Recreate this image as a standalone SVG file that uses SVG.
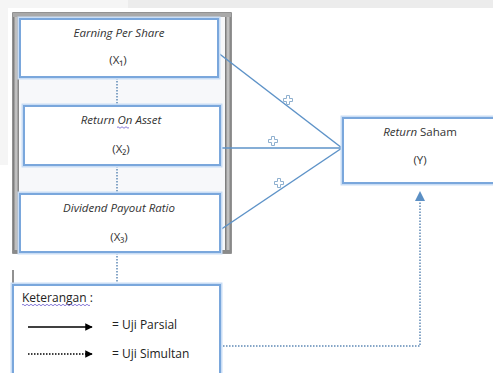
<svg xmlns="http://www.w3.org/2000/svg" width="493" height="373" viewBox="0 0 493 373">
<style>
.box{fill:#fff;stroke:#7aa7dc;stroke-width:2}
.glow{fill:none;stroke:#c9ddf5;stroke-width:5}
.t{font-family:"Open Sans","Liberation Sans",sans-serif;font-size:11.5px;fill:#333;text-anchor:middle}
.i{font-style:italic}
.l{font-family:"Open Sans","Liberation Sans",sans-serif;font-size:12px;fill:#222}
.con{stroke:#5e93c8;stroke-width:1.5;fill:none}
.dot{stroke:#5f89b5;stroke-width:1.5;fill:none;stroke-dasharray:1.5 1.5}
.plus{fill:#fff;stroke:#8fb0cf;stroke-width:1}
.wavy{fill:none;stroke:#6a5acd;stroke-width:0.8}
</style>
<defs>
<linearGradient id="side" x1="0" x2="1">
<stop offset="0" stop-color="#6e6e6e"/><stop offset="0.5" stop-color="#cfcfcf"/><stop offset="1" stop-color="#7a7a7a"/>
</linearGradient>
<marker id="ab" viewBox="0 0 10 10" refX="9" refY="5" markerWidth="7" markerHeight="7" orient="auto"><path d="M0,0L10,5L0,10z" fill="#5b8fc4"/></marker>
<marker id="ak" viewBox="0 0 10 10" refX="9" refY="5" markerWidth="5" markerHeight="5" orient="auto"><path d="M0,0L10,5L0,10z" fill="#000"/></marker>
</defs>
<rect x="0" y="0" width="493" height="373" fill="#fff"/>
<rect x="0" y="0" width="128" height="8" fill="#f5f5f5"/>
<rect x="128" y="0" width="365" height="8" fill="#ececec"/>
<rect x="0" y="0" width="8" height="165" fill="#f5f5f5"/>
<g id="frame">
<rect x="13" y="13" width="218" height="240" fill="#f7f8fa" stroke="#6f6f6f" stroke-width="1.5"/>
<rect x="13" y="13" width="6" height="240" fill="url(#side)"/>
<rect x="225" y="13" width="6" height="240" fill="url(#side)"/>
<rect x="13" y="13" width="218" height="4" fill="#a9a9a9"/>
<rect x="13" y="250" width="218" height="3" fill="#8a8a8a"/>
</g>
<g id="connectors">
<line class="dot" x1="117" y1="78" x2="117" y2="106"/>
<line class="dot" x1="117" y1="166" x2="117" y2="194"/>
<line class="dot" x1="117" y1="253" x2="117" y2="285"/>
<line class="con" x1="217" y1="52" x2="342" y2="148"/>
<line class="con" x1="220" y1="148" x2="342" y2="148"/>
<line class="con" x1="220" y1="230" x2="342" y2="148"/>
<path class="dot" d="M220,346H420V192" marker-end="url(#ab)"/>
<line x1="13" y1="270" x2="13" y2="285" stroke="#222" stroke-width="1"/>
</g>
<g id="plus">
<path class="plus" transform="translate(288,100)" d="M-1.5,-4.5h3v3h3v3h-3v3h-3v-3h-3v-3h3z"/>
<path class="plus" transform="translate(273,141)" d="M-1.5,-4.5h3v3h3v3h-3v3h-3v-3h-3v-3h3z"/>
<path class="plus" transform="translate(279,183)" d="M-1.5,-4.5h3v3h3v3h-3v3h-3v-3h-3v-3h3z"/>
</g>
<g id="x1">
<rect class="glow" x="20" y="19" width="198" height="58"/>
<rect class="box" x="20" y="19" width="198" height="58"/>
<text class="t i" x="119" y="37">Earning Per Share</text>
<text class="t" x="118" y="64">(X₁)</text>
</g>
<g id="x2">
<rect class="glow" x="24" y="106" width="196" height="59"/>
<rect class="box" x="24" y="106" width="196" height="59"/>
<text class="t i" x="121" y="124">Return On Asset</text>
<path class="wavy" d="M117,127.5q1,-1.5 2,0t2,0t2,0t2,0t2,0t2,0"/>
<text class="t" x="121" y="153">(X₂)</text>
</g>
<g id="x3">
<rect class="glow" x="20" y="194" width="200" height="58"/>
<rect class="box" x="20" y="194" width="200" height="58"/>
<text class="t i" x="119" y="212">Dividend Payout Ratio</text>
<text class="t" x="119" y="241">(X₃)</text>
</g>
<g id="y">
<rect class="glow" x="343" y="118" width="152" height="65"/>
<rect class="box" x="343" y="118" width="152" height="65"/>
<text class="t" x="420" y="136"><tspan class="i">Return</tspan> Saham</text>
<text class="t" x="420" y="164">(Y)</text>
</g>
<g id="legend">
<rect class="glow" x="13" y="285" width="207" height="95"/>
<rect class="box" x="13" y="285" width="207" height="95"/>
<text class="l" x="22" y="302">Keterangan :</text>
<path class="wavy" d="M22,305q1,-1.5 2,0t2,0t2,0t2,0t2,0t2,0t2,0t2,0t2,0t2,0t2,0t2,0t2,0t2,0t2,0t2,0t2,0t2,0t2,0t2,0t2,0t2,0t2,0t2,0t2,0t2,0t2,0t2,0t2,0t2,0t2,0t2,0t2,0t2,0"/>
<line x1="28" y1="327" x2="92" y2="327" stroke="#000" stroke-width="1.5" marker-end="url(#ak)"/>
<text class="l" x="112" y="329">= Uji Parsial</text>
<line x1="28" y1="354" x2="92" y2="354" stroke="#000" stroke-width="1.5" stroke-dasharray="1.5 1.5" marker-end="url(#ak)"/>
<text class="l" x="112" y="358">= Uji Simultan</text>
</g>
</svg>
